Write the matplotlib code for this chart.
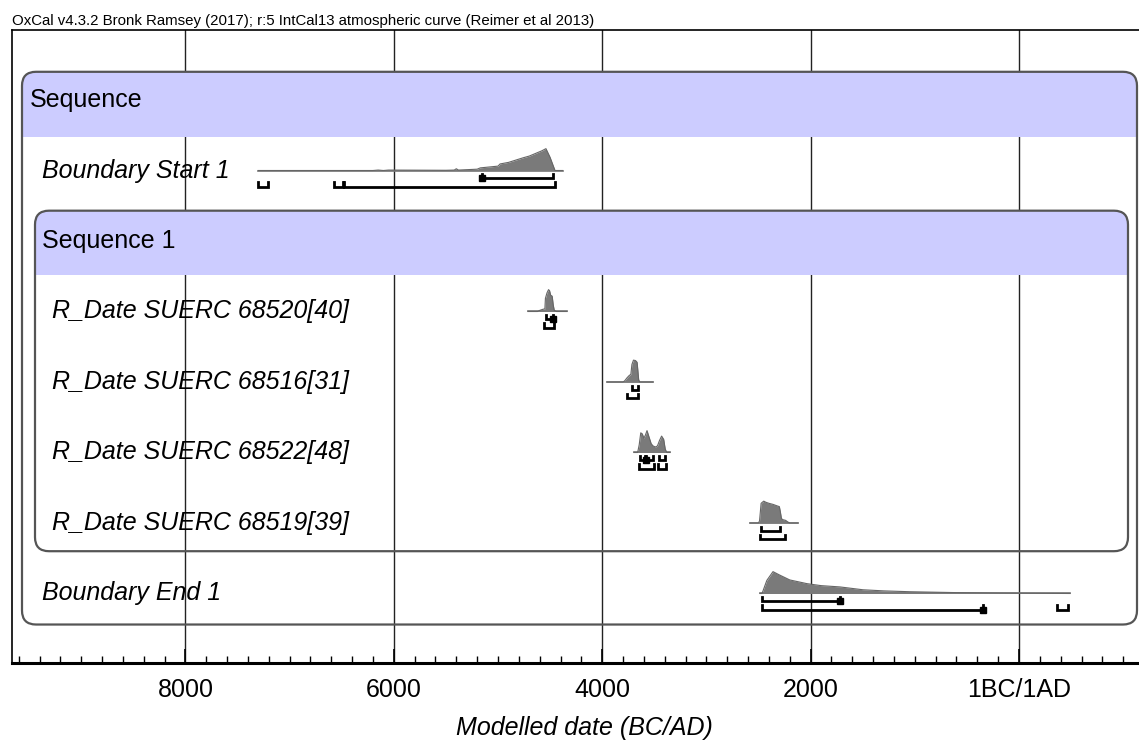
import matplotlib
matplotlib.use("Agg")
import matplotlib.pyplot as plt
from matplotlib.patches import FancyBboxPatch, Rectangle
from matplotlib.ticker import MultipleLocator, FixedLocator, FixedFormatter
import numpy as np

plt.rcParams['font.family'] = ['Liberation Sans', 'DejaVu Sans']

# Calendar years are stored as years BC (AD years are negative)
tick_years = [8000, 6000, 4000, 2000, 0]
tick_labels = ["8000", "6000", "4000", "2000", "1BC/1AD"]

row_names = ["Boundary Start 1", "R_Date SUERC 68520[40]", "R_Date SUERC 68516[31]",
             "R_Date SUERC 68522[48]", "R_Date SUERC 68519[39]", "Boundary End 1"]
row_pos = [1, 3, 4, 5, 6, 7]
row_indent = [0, 1, 1, 1, 1, 0]

start_years = [7300, 6200, 6150, 6100, 6050, 5500, 5420, 5400, 5380, 5200, 5170, 5000,
               4980, 4900, 4760, 4700, 4630, 4580, 4540, 4500, 4453, 4380]
start_prob = [0, 0, 0.02, 0, 0.02, 0.01, 0.02, 0.08, 0.02, 0.06, 0.12, 0.2,
              0.3, 0.37, 0.58, 0.66, 0.8, 0.9, 1.0, 0.6, 0, 0]

s68520_years = [4712, 4620, 4600, 4570, 4550, 4545, 4530, 4515, 4505, 4495, 4480, 4470,
                4460, 4440, 4338]
s68520_prob = [0, 0, 0.05, 0.1, 0.12, 0.6, 0.85, 1.0, 0.95, 0.75, 0.7, 0.3, 0.05, 0, 0]

s68516_years = [3954, 3800, 3785, 3760, 3740, 3725, 3715, 3700, 3680, 3665, 3650, 3640, 3512]
s68516_prob = [0, 0, 0.05, 0.2, 0.3, 0.35, 0.8, 1.0, 0.98, 0.9, 0.1, 0, 0]

s68522_years = [3695, 3660, 3645, 3630, 3615, 3600, 3585, 3570, 3550, 3530, 3512, 3490,
                3470, 3450, 3430, 3410, 3395, 3380, 3349]
s68522_prob = [0, 0, 0.35, 0.9, 0.85, 0.65, 0.8, 1.0, 0.7, 0.4, 0.3, 0.25,
               0.3, 0.55, 0.75, 0.6, 0.15, 0, 0]

s68519_years = [2582, 2500, 2490, 2475, 2450, 2430, 2400, 2360, 2320, 2300, 2290, 2280,
                2265, 2240, 2220, 2200, 2121]
s68519_prob = [0, 0, 0.1, 0.9, 1.0, 0.95, 0.9, 0.85, 0.78, 0.75, 0.5, 0.2,
               0.15, 0.12, 0.05, 0, 0]

end_years = [2486, 2466, 2420, 2361, 2300, 2200, 2035, 1900, 1718, 1497, 1300, 1046,
             600, 182, -100, -490]
end_prob = [0, 0, 0.6, 1.0, 0.85, 0.62, 0.45, 0.36, 0.3, 0.17, 0.12, 0.08,
            0.04, 0.02, 0.01, 0]

dists = [(start_years, start_prob), (s68520_years, s68520_prob), (s68516_years, s68516_prob),
         (s68522_years, s68522_prob), (s68519_years, s68519_prob), (end_years, end_prob)]

# highest posterior density ranges (68.2% and 95.4%)
range68 = [[(5154, 4472)],
           [(4535, 4470)],
           [(3715, 3655)],
           [(3635, 3585), (3575, 3515), (3455, 3395)],
           [(2476, 2294)],
           [(2466, 1718)]]
range95 = [[(7300, 7210), (6570, 6490), (6480, 4453)],
           [(4560, 4460)],
           [(3765, 3655)],
           [(3645, 3500), (3460, 3385)],
           [(2486, 2246)],
           [(2466, 345), (-365, -470)]]
# range ends drawn with a filled square
dot68 = [5154, 4470, None, 3580, None, 1718]
dot95 = [None, None, None, None, None, 345]

W_PX, H_PX = 1139, 744
ROW0_PX, ROW_PX = 100, 70.5
fig = plt.figure(figsize=(W_PX / 100, H_PX / 100), dpi=100)
ax = fig.add_axes([12 / W_PX, 81 / H_PX, 1138 / W_PX, 633 / H_PX])
ax.set_xlim(9664, -1257)
ax.set_ylim(7.986, -0.993)

# vertical grid lines at the major ticks
for yr in tick_years:
    ax.axvline(yr, color="#222222", lw=1.0, zorder=1)


def inch_x(px):
    return px / 100


def inch_y(row):
    return (H_PX - (ROW0_PX + ROW_PX * row)) / 100


def group_box(x0, x1, top, head, bottom):
    # rounded group frame with a lavender title band, laid out in inches
    tr = fig.dpi_scale_trans
    box = FancyBboxPatch((inch_x(x0), inch_y(bottom)), inch_x(x1) - inch_x(x0),
                         inch_y(top) - inch_y(bottom),
                         boxstyle="round,pad=0,rounding_size=0.14",
                         fc="none", ec="#555555", lw=1.6, zorder=4, transform=tr)
    ax.add_patch(box)
    band = Rectangle((inch_x(x0), inch_y(head)), inch_x(x1) - inch_x(x0),
                     inch_y(top) - inch_y(head), fc="#ccccff", ec="none", zorder=3,
                     transform=tr)
    ax.add_patch(band)
    band.set_clip_path(box)


group_box(22, 1137, -0.40, 0.52, 7.44)
group_box(35, 1128, 1.57, 2.48, 6.40)

FS = 18
ax.text((30 - 12) / 1138, 0, "Sequence", transform=ax.get_yaxis_transform(),
        fontsize=FS, va="center", ha="left", zorder=6)
ax.text((42 - 12) / 1138, 2, "Sequence 1", transform=ax.get_yaxis_transform(),
        fontsize=FS, va="center", ha="left", zorder=6)

H = 0.31
OFF68, OFF95 = 0.11, 0.23
TICK = 0.06
for i, (name, y) in enumerate(zip(row_names, row_pos)):
    xpx = 42 if row_indent[i] == 0 else 52
    ax.text((xpx - 12) / 1138, y, name, transform=ax.get_yaxis_transform(),
            fontsize=FS, style="italic", va="center", ha="left", zorder=6)
    yrs, pr = dists[i]
    yrs = np.array(yrs, dtype=float)
    pr = np.array(pr, dtype=float)
    ax.plot([yrs[0], yrs[-1]], [y, y], color="#777777", lw=1.2, zorder=5)
    ax.fill_between(yrs, y, y - pr * H, color="#7a7a7a", lw=0, zorder=5)
    ax.plot(yrs, y - pr * H, color="#666666", lw=0.8, zorder=5)
    for ranges, off in ((range68[i], OFF68), (range95[i], OFF95)):
        for a, b in ranges:
            yy = y + off
            ax.plot([a, a, b, b], [yy - TICK, yy, yy, yy - TICK], color="black",
                    lw=2.0, solid_joinstyle="miter", zorder=5)
    if dot68[i] is not None:
        ax.plot(dot68[i], y + OFF68, "s", color="black", ms=4.5, zorder=6)
    if dot95[i] is not None:
        ax.plot(dot95[i], y + OFF95, "s", color="black", ms=4.5, zorder=6)

ax.xaxis.set_major_locator(FixedLocator(tick_years))
ax.xaxis.set_major_formatter(FixedFormatter(tick_labels))
ax.xaxis.set_minor_locator(MultipleLocator(200))
ax.tick_params(axis="x", which="major", direction="in", length=10, width=1.2,
               labelsize=FS, pad=11, top=False)
ax.tick_params(axis="x", which="minor", direction="in", length=5, width=1.0, top=False)
ax.tick_params(axis="y", left=False, labelleft=False)
ax.spines["bottom"].set_linewidth(2.2)
ax.spines["left"].set_linewidth(1.2)
ax.spines["top"].set_linewidth(1.2)
ax.spines["right"].set_visible(False)

ax.set_xlabel("Modelled date (BC/AD)", fontsize=FS, style="italic")
ax.xaxis.set_label_coords((584 - 12) / 1138, -0.083)
ax.text(0, 1.003, "OxCal v4.3.2 Bronk Ramsey (2017); r:5 IntCal13 atmospheric curve (Reimer et al 2013)",
        transform=ax.transAxes, fontsize=10.8, va="bottom", ha="left")

fig.savefig("out.png", dpi=100)
